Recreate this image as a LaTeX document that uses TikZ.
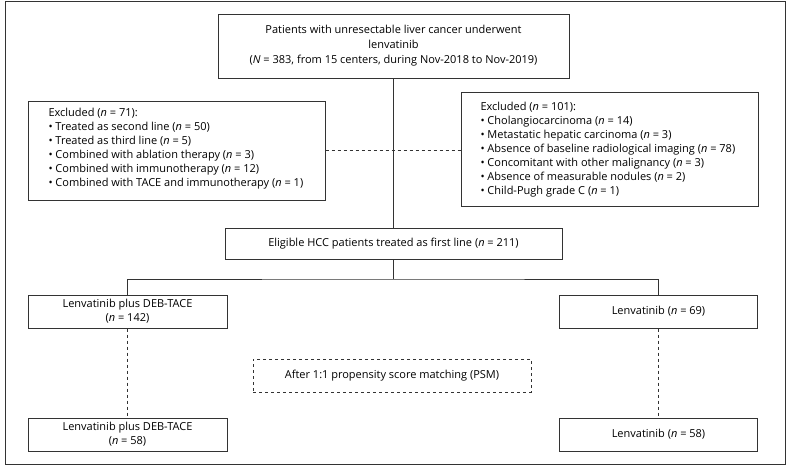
\documentclass[tikz,border=0pt]{standalone}
\usepackage{fontspec}
\setmainfont{Open Sans}
\usepackage{tikz}
\tikzset{
	box/.style={draw=black!80, line width=1pt, align=center, inner sep=0pt, font=\fontsize{11}{14}\selectfont},
	dbox/.style={box, dashed},
	txt/.style={box, draw=none, align=left, anchor=west},
}
\newcommand{\nn}{\textit{n}}

\begin{document}
\begin{tikzpicture}[x=1pt, y=-1pt, line width=1pt]
    \useasboundingbox(0, 0)rectangle(787, 466);
    \draw[black!80](5, 1)rectangle(785.5, 464);
    \node[box, minimum width=351, minimum height=64, font=\fontsize{11}{15}\selectfont](top)at(393.5, 46){Patients with unresectable liver cancer underwent\\lenvatinib\\(\textit{N} = 383, from 15 centers, during Nov-2018 to Nov-2019)};
    \node[box, minimum width=297, minimum height=99](exl)at(176.5, 150.5){};
    \node[txt](exltxt)at(48, 149){Excluded (\nn{} = 71):\\
        • Treated as second line (\nn{} = 50)\\
        • Treated as third line (\nn{} = 5)\\
        • Combined with ablation therapy (\nn{} = 3)\\
        • Combined with immunotherapy (\nn{} = 12)\\
        • Combined with TACE and immunotherapy (\nn{} = 1)};
    \node[box, minimum width=297, minimum height=114](exr)at(609.5, 149){};
    \node[txt](exrtxt)at(480, 150){Excluded (\nn{} = 101):\\
        • Cholangiocarcinoma (\nn{} = 14)\\
        • Metastatic hepatic carcinoma (\nn{} = 3)\\
        • Absence of baseline radiological imaging (\nn{} = 78)\\
        • Concomitant with other malignancy (\nn{} = 3)\\
        • Absence of measurable nodules (\nn{} = 2)\\
        • Child-Pugh grade C (\nn{} = 1)};
    \node[box, minimum width=337, minimum height=31](elig)at(393.5, 243.5){Eligible HCC patients treated as first line (\nn{} = 211)};
    \node[box, minimum width=199, minimum height=33](combo)at(127.5, 311.5){Lenvatinib plus DEB-TACE\\(\nn{} = 142)};
    \node[box, minimum width=198, minimum height=33](lenv)at(658.5, 311.5){Lenvatinib (\nn{} = 69)};
    \node[dbox, minimum width=278, minimum height=33](psm)at(392, 375.5){After 1:1 propensity score matching (PSM)};
    \node[box, minimum width=199, minimum height=33](comboB)at(127.5, 434.5){Lenvatinib plus DEB-TACE\\(\nn{} = 58)};
    \node[box, minimum width=198, minimum height=33](lenvB)at(658.5, 434.5){Lenvatinib (\nn{} = 58)};
    \coordinate(split)at(393.5, 279);
    % flow
    \draw[black!80](top)--(elig);
    \draw[black!80, dashed](exl.east)--(exl.east-|exr.west);
    \draw[black!80](elig)--(split);
    \draw[black!80](combo.north)|-(split)-|(lenv.north);
    \draw[black!80, dashed](combo)--(comboB);
    \draw[black!80, dashed](lenv)--(lenvB);
\end{tikzpicture}
\end{document}
